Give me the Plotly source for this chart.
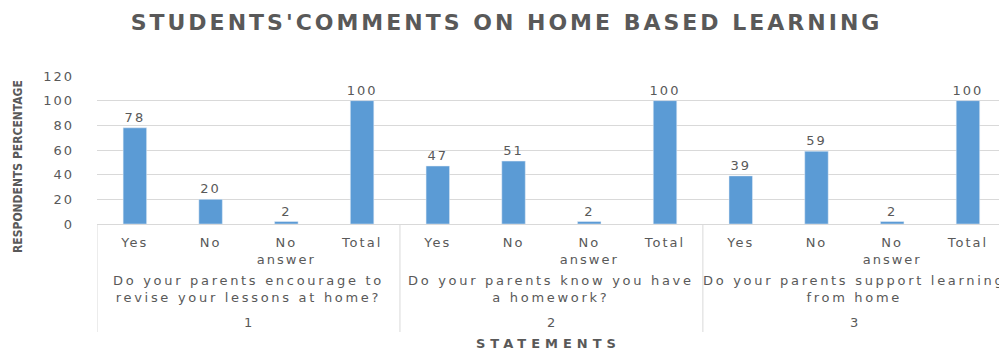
import plotly.graph_objects as go

# Survey data: three statements, four response columns each
responses = ["Yes", "No", "No<br>answer", "Total"]
statements = [
    "Do your parents encourage to<br>revise your lessons at home?",
    "Do your parents know you have<br>a homework?",
    "Do your parents support learning<br>from home",
]
statement_ids = ["1", "2", "3"]
percentages = [
    [78, 20, 2, 100],
    [47, 51, 2, 100],
    [39, 59, 2, 100],
]
y_ticks = [0, 20, 40, 60, 80, 100, 120]

BAR_COLOR = "#5B9BD5"
TEXT_COLOR = "#595959"
GRID_COLOR = "#D9D9D9"
FONT = "DejaVu Sans"


def spaced(text, px):
    """Wrap text in a span with extra letter spacing."""
    return f'<span style="letter-spacing:{px}px">{text}</span>'


n_resp = len(responses)
xs, ys, tickvals, ticktext = [], [], [], []
for g, vals in enumerate(percentages):
    for i, v in enumerate(vals):
        pos = g * n_resp + i
        xs.append(pos)
        ys.append(v)
        tickvals.append(pos)
        ticktext.append(spaced(responses[i], 2))

fig = go.Figure(
    go.Bar(
        x=xs,
        y=ys,
        marker_color=BAR_COLOR,
        text=[spaced(str(v), 2) for v in ys],
        textposition="outside",
        constraintext="none",
        textfont=dict(family=FONT, size=13, color=TEXT_COLOR),
        cliponaxis=False,
        width=0.31,
    )
)

annotations = []
shapes = []
for g, (stmt, sid) in enumerate(zip(statements, statement_ids)):
    center = g * n_resp + (n_resp - 1) / 2
    annotations.append(dict(
        x=center, xref="x", y=-0.44, yref="paper",
        text=spaced(stmt, 2.7), showarrow=False,
        font=dict(family=FONT, size=13, color=TEXT_COLOR),
        xanchor="center", yanchor="middle", align="center",
    ))
    annotations.append(dict(
        x=center, xref="x", y=-0.665, yref="paper",
        text=sid, showarrow=False,
        font=dict(family=FONT, size=13, color=TEXT_COLOR),
        xanchor="center", yanchor="middle",
    ))
# group separators on the category axis
for g in range(len(statements) + 1):
    shapes.append(dict(
        type="line", xref="x", yref="paper",
        x0=g * n_resp - 0.5, x1=g * n_resp - 0.5, y0=0, y1=-0.73,
        line=dict(color=GRID_COLOR, width=1),
    ))

annotations.append(dict(
    x=0.5, xref="paper", y=-0.805, yref="paper",
    text=spaced("<b>STATEMENTS</b>", 5), showarrow=False,
    font=dict(family=FONT, size=13, color=TEXT_COLOR),
    xanchor="center", yanchor="middle",
))
annotations.append(dict(
    x=-0.0876, xref="paper", y=0.392, yref="paper",
    text="<b>RESPONDENTS PERCENTAGE</b>", textangle=-90, showarrow=False,
    font=dict(family="Liberation Sans Narrow, DejaVu Sans Condensed, sans-serif",
              size=12, color=TEXT_COLOR),
    xanchor="center", yanchor="middle",
))

fig.update_layout(
    width=999, height=351,
    margin=dict(l=97, r=0, t=76, b=127),
    paper_bgcolor="white", plot_bgcolor="white",
    showlegend=False,
    title=dict(
        text=spaced("<b>STUDENTS'COMMENTS ON HOME BASED LEARNING</b>", 3),
        x=0.507, xref="container", xanchor="center",
        y=0.937, yref="container", yanchor="middle",
        font=dict(family=FONT, size=22, color=TEXT_COLOR),
    ),
    xaxis=dict(
        range=[-0.5, 11.41],
        tickvals=tickvals, ticktext=ticktext,
        tickfont=dict(family=FONT, size=13, color=TEXT_COLOR),
        showgrid=False, zeroline=False,
        showline=True, linecolor=GRID_COLOR, linewidth=1,
        ticks="", ticklabelstandoff=6,
        fixedrange=True,
    ),
    yaxis=dict(
        range=[0, 120],
        tickvals=y_ticks, ticktext=[spaced(str(t), 2) for t in y_ticks],
        tickfont=dict(family=FONT, size=13, color=TEXT_COLOR),
        showgrid=True, gridcolor=GRID_COLOR, gridwidth=1,
        zeroline=False, showline=False, ticks="",
        ticklabelstandoff=22,
        fixedrange=True,
    ),
    annotations=annotations,
    shapes=shapes,
)

fig.write_html("out.html", config={"displayModeBar": False})
